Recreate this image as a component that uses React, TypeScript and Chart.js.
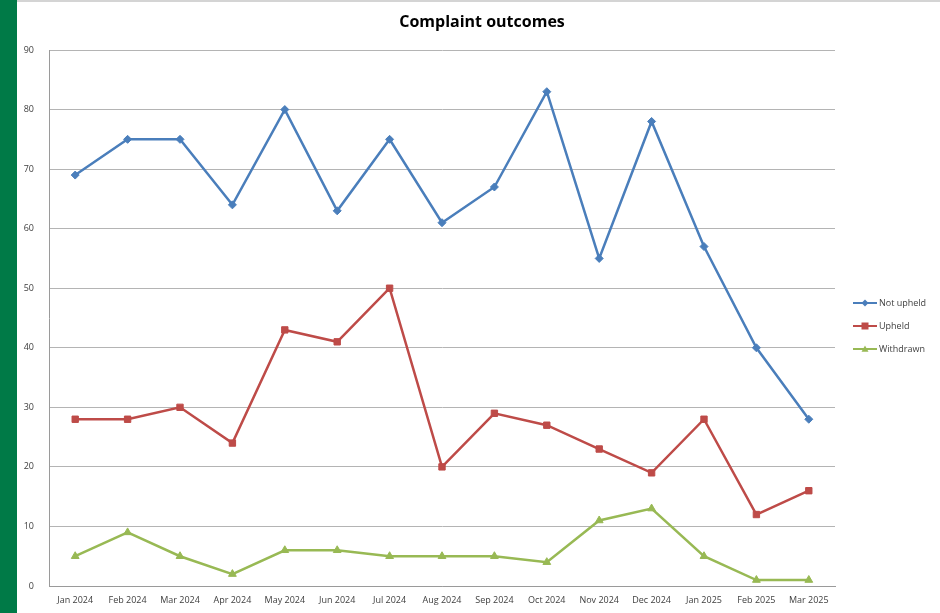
import React, { useEffect, useRef } from "react";
import { Chart, registerables } from "chart.js";

Chart.register(...registerables);

const months = [
  "Jan 2024", "Feb 2024", "Mar 2024", "Apr 2024", "May 2024", "Jun 2024", "Jul 2024",
  "Aug 2024", "Sep 2024", "Oct 2024", "Nov 2024", "Dec 2024", "Jan 2025", "Feb 2025", "Mar 2025",
];
const notUpheld = [69, 75, 75, 64, 80, 63, 75, 61, 67, 83, 55, 78, 57, 40, 28];
const upheld = [28, 28, 30, 24, 43, 41, 50, 20, 29, 27, 23, 19, 28, 12, 16];
const withdrawn = [5, 9, 5, 2, 6, 6, 5, 5, 5, 4, 11, 13, 5, 1, 1];

const BLUE = "#4a7ebb";
const RED = "#be4b48";
const GREEN = "#98b954";
const FONT = "'Open Sans', 'Liberation Sans', sans-serif";

function marker(ctx: CanvasRenderingContext2D, style: string, x: number, y: number, r: number) {
  ctx.beginPath();
  if (style === "rectRot") {
    ctx.moveTo(x, y - r); ctx.lineTo(x + r, y); ctx.lineTo(x, y + r); ctx.lineTo(x - r, y);
  } else if (style === "rect") {
    ctx.rect(x - r, y - r, 2 * r, 2 * r);
  } else {
    ctx.moveTo(x, y - r); ctx.lineTo(x + r, y + r * 0.8); ctx.lineTo(x - r, y + r * 0.8);
  }
  ctx.closePath();
  ctx.fill();
}

// Title and side legend drawn straight onto the canvas
const decorations = {
  id: "decorations",
  afterDraw(chart: any) {
    const ctx = chart.ctx as CanvasRenderingContext2D;
    const area = chart.chartArea;
    ctx.save();
    ctx.fillStyle = "#000";
    ctx.font = `bold 16px ${FONT}`;
    ctx.textAlign = "center";
    ctx.textBaseline = "middle";
    ctx.fillText("Complaint outcomes", 482, 22);

    const x0 = area.right + 18;
    chart.data.datasets.forEach((ds: any, i: number) => {
      const y = 303 + i * 23;
      ctx.strokeStyle = ds.borderColor;
      ctx.lineWidth = 2;
      ctx.beginPath();
      ctx.moveTo(x0, y);
      ctx.lineTo(x0 + 24, y);
      ctx.stroke();
      ctx.fillStyle = ds.borderColor;
      marker(ctx, ds.pointStyle, x0 + 12, y, 3.5);
      ctx.fillStyle = "#404040";
      ctx.font = `9px ${FONT}`;
      ctx.textAlign = "left";
      ctx.fillText(ds.label, x0 + 26, y);
    });
    ctx.restore();
  },
};

export default function App() {
  const ref = useRef<HTMLCanvasElement>(null);

  useEffect(() => {
    document.body.style.margin = "0";
    const mk = (label: string, data: number[], color: string, style: string) => ({
      label,
      data,
      borderColor: color,
      backgroundColor: color,
      pointStyle: style,
      pointRadius: style === "rectRot" ? 4 : 4.5,
      pointBorderWidth: 1,
      borderWidth: 2.5,
      tension: 0,
    });
    const chart = new Chart(ref.current!, {
      type: "line",
      data: {
        labels: months,
        datasets: [
          mk("Not upheld", notUpheld, BLUE, "rectRot"),
          mk("Upheld", upheld, RED, "rect"),
          mk("Withdrawn", withdrawn, GREEN, "triangle"),
        ],
      },
      options: {
        animation: false,
        responsive: false,
        layout: { padding: { left: 0, right: 105, top: 50, bottom: 0 } },
        plugins: { legend: { display: false }, title: { display: false }, tooltip: { enabled: false } },
        scales: {
          x: {
            offset: true,
            grid: { display: false, drawTicks: false },
            border: { color: "#9a9a9a", width: 1 },
            ticks: { color: "#404040", font: { family: FONT, size: 9 }, padding: 9, maxRotation: 0, autoSkip: false },
            afterFit: (s: any) => { s.height = 27; },
          },
          y: {
            min: 0,
            max: 90,
            ticks: { stepSize: 10, color: "#404040", font: { family: FONT, size: 9 }, padding: 15 },
            grid: { color: "#b4b4b4", lineWidth: 1, drawTicks: false },
            border: { color: "#9a9a9a", width: 1 },
            afterFit: (s: any) => { s.width = 49; },
          },
        },
      },
      plugins: [decorations],
    });
    return () => chart.destroy();
  }, []);

  return (
    <div style={{ position: "relative", width: 940, height: 613, background: "#fff", overflow: "hidden" }}>
      <canvas ref={ref} width={940} height={613} style={{ position: "absolute", left: 0, top: 0 }} />
      <div style={{ position: "absolute", left: 0, top: 0, width: 17, height: 613, background: "#007a47" }} />
      <div style={{ position: "absolute", left: 17, top: 0, width: 923, height: 0, borderTop: "2px solid #d4d4d4" }} />
    </div>
  );
}
